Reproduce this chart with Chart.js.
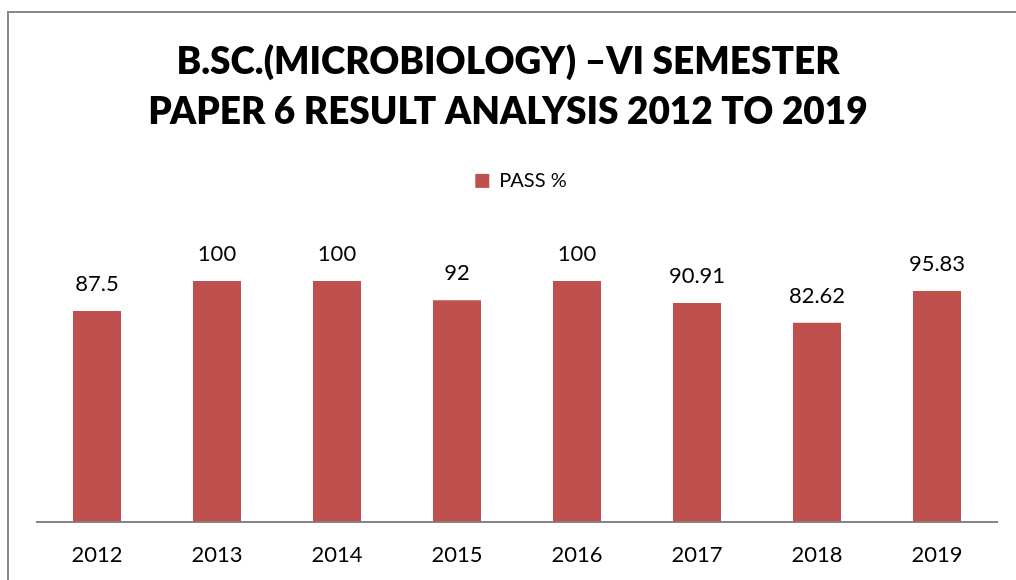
<!DOCTYPE html>
<html>
<head>
<meta charset="utf-8">
<script src="https://cdn.jsdelivr.net/npm/chart.js@4/dist/chart.umd.min.js"></script>
<style>
  html, body { margin: 0; padding: 0; background: #fff; overflow: hidden; }
  #wrap { position: relative; width: 1016px; height: 580px; overflow: hidden; }
  #frame {
    position: absolute; left: 7px; top: 11px; width: 1030px; height: 600px;
    border: 2px solid #898989; pointer-events: none;
  }
  canvas { position: absolute; left: 0; top: 0; }
</style>
</head>
<body>
<div id="wrap">
  <div id="frame"></div>
  <canvas id="chart" width="1016" height="590"></canvas>
</div>
<script>
const years = ['2012', '2013', '2014', '2015', '2016', '2017', '2018', '2019']
const passPercent = [87.5, 100, 100, 92, 100, 90.91, 82.62, 95.83]
const titleLines = ['B.SC.(MICROBIOLOGY) \u2013VI SEMESTER', 'PAPER 6 RESULT ANALYSIS 2012 TO 2019']

// подписи значений над столбцами
const barValueLabels = {
	id: 'barValueLabels',
	afterDatasetsDraw(chart) {
		const ctx = chart.ctx
		const meta = chart.getDatasetMeta(0)
		ctx.save()
		ctx.font = '22px Lato'
		ctx.fillStyle = '#000'
		ctx.textAlign = 'center'
		ctx.textBaseline = 'middle'
		meta.data.forEach((bar, i) => {
			ctx.fillText(String(passPercent[i]), bar.x, bar.y - 27)
		})
		ctx.restore()
	},
}

// дополнительный отступ под легендой и сдвиг заголовка к центру холста
const layoutTweaks = {
	id: 'layoutTweaks',
	beforeInit(chart) {
		const origFit = chart.legend.fit
		chart.legend.fit = function () {
			origFit.bind(chart.legend)()
			this.height += 32
		}
	},
	afterLayout(chart) {
		if (chart.titleBlock) {
			chart.titleBlock.left -= 9
			chart.titleBlock.right -= 9
		}
		if (chart.legend) {
			chart.legend.left += 4
			chart.legend.right += 4
		}
	},
}

new Chart(document.getElementById('chart').getContext('2d'), {
	type: 'bar',
	data: {
		labels: years,
		datasets: [
			{
				label: 'PASS %',
				data: passPercent,
				backgroundColor: '#C0504D',
				categoryPercentage: 1,
				barPercentage: 0.4,
			},
		],
	},
	options: {
		responsive: false,
		animation: false,
		layout: { padding: { left: 37, right: 19, top: 0, bottom: 2 } },
		plugins: {
			title: {
				display: true,
				text: titleLines,
				color: '#000',
				font: { family: 'Lato', size: 37, weight: 800, lineHeight: 1.35 },
				padding: { top: 37, bottom: 24 },
			},
			legend: {
				display: true,
				position: 'top',
				labels: {
					color: '#000',
					font: { family: 'Lato', size: 20 },
					boxWidth: 14,
					boxHeight: 14,
					padding: 10,
				},
			},
			tooltip: { enabled: false },
		},
		scales: {
			x: {
				grid: { display: false, drawTicks: false },
				border: { display: true, color: '#868686', width: 2 },
				ticks: { color: '#000', font: { family: 'Lato', size: 22 }, padding: 20 },
			},
			y: {
				display: false,
				min: 0,
				max: 120,
			},
		},
	},
	plugins: [barValueLabels, layoutTweaks],
})
</script>
</body>
</html>
